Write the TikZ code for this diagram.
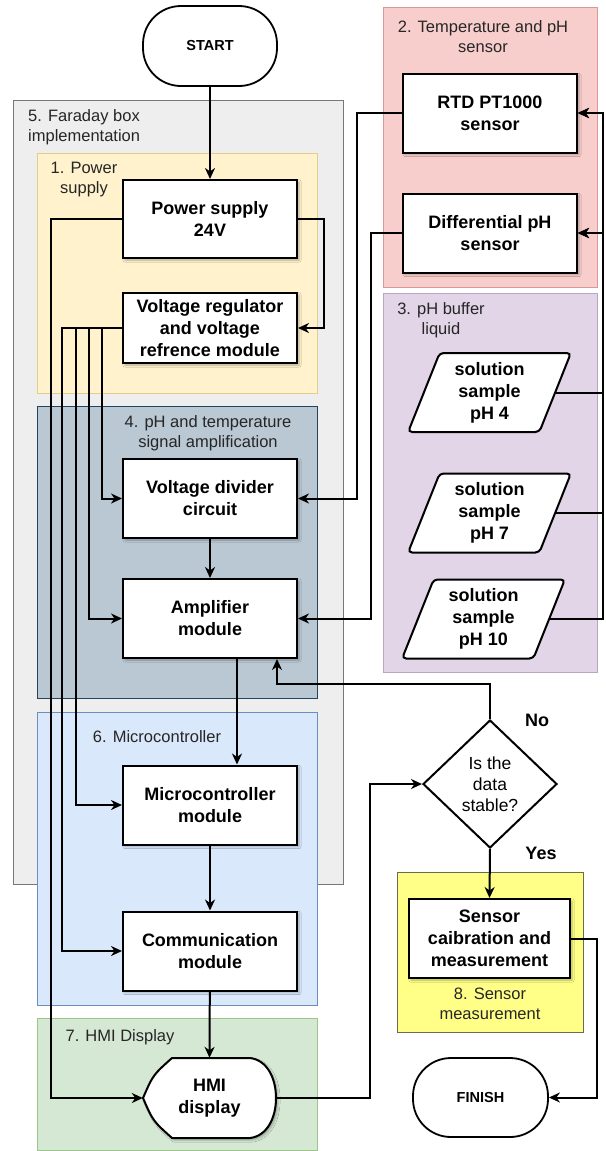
\documentclass[tikz,border=0pt]{standalone}
\usepackage{fontspec}
\setmainfont{Liberation Sans}
\usetikzlibrary{arrows.meta,shapes.geometric,shadows.blur,calc}
\definecolor{cFf}{HTML}{EEEEEE}\definecolor{cFl}{HTML}{777777}
\definecolor{cAf}{HTML}{FFF2CC}\definecolor{cAl}{HTML}{E3CD8A}
\definecolor{cBf}{HTML}{F8CECC}\definecolor{cBl}{HTML}{D99895}
\definecolor{cCf}{HTML}{E1D5E7}\definecolor{cCl}{HTML}{B9A5C4}
\definecolor{cDf}{HTML}{BAC8D3}\definecolor{cDl}{HTML}{23445D}
\definecolor{cEf}{HTML}{DAE8FC}\definecolor{cEl}{HTML}{6C8EBF}
\definecolor{cGf}{HTML}{D5E8D4}\definecolor{cGl}{HTML}{9DC48A}
\definecolor{cHf}{HTML}{FFFF88}\definecolor{cHl}{HTML}{6B6B50}
\definecolor{lbltxt}{HTML}{262626}
\tikzset{
  boxfont/.style={font=\fontsize{18}{22}\selectfont\bfseries},
  shad/.style={blur shadow={shadow xshift=2pt,shadow yshift=-2pt,shadow blur steps=4,shadow opacity=30}},
  stepbox/.style={draw=black,line width=2pt,fill=white,minimum width=174pt,minimum height=79pt,inner sep=1pt,align=center,boxfont,shad},
  term/.style={draw=black,line width=1.8pt,fill=white,rounded corners=38pt,minimum width=134pt,minimum height=80pt,font=\fontsize{14.5}{17}\selectfont\bfseries},
  decision/.style={diamond,aspect=1.05,draw=black,line width=2pt,fill=white,minimum width=134pt,minimum height=128pt,inner sep=0pt,align=center,font=\fontsize{17.5}{21}\selectfont},
  para/.style={trapezium,trapezium left angle=70,trapezium right angle=110,trapezium stretches=true,draw=black,line width=2pt,fill=white,minimum width=163pt,minimum height=79pt,inner sep=0pt,align=center,boxfont,rounded corners=4pt},
  grp/.style={line width=0.7pt},
  grplbl/.style={text=lbltxt,align=center,inner sep=0pt,font=\fontsize{16.5}{20}\selectfont},
  conn/.style={line width=2pt,draw=black},
  arr/.style={conn,-{Stealth[length=11pt,width=10pt,inset=3.5pt]}},
  yn/.style={inner sep=0pt,font=\fontsize{18}{22}\selectfont\bfseries}
}
\begin{document}
\begin{tikzpicture}[x=1pt,y=-1pt]
\useasboundingbox[fill=white] (0,0) rectangle (605,1151);
% groups
\draw[grp,fill=cFf,draw=cFl] (13,100) rectangle (343,884);
\draw[grp,fill=cAf,draw=cAl] (37,153) rectangle (317,393);
\draw[grp,fill=cDf,draw=cDl] (37,406) rectangle (317,698);
\draw[grp,fill=cEf,draw=cEl] (37,712) rectangle (317,1005);
\draw[grp,fill=cGf,draw=cGl] (37,1018) rectangle (317,1150);
\draw[grp,fill=cBf,draw=cBl] (383,7) rectangle (597,287);
\draw[grp,fill=cCf,draw=cCl] (383,293) rectangle (597,672);
\draw[grp,fill=cHf,draw=cHl] (397,872) rectangle (583,1032);
% group labels
\node[grplbl,align=left,anchor=west] (l5) at (28,127) {5. Faraday box\\implementation};
\node[grplbl] (l1) at (84,180) {1. Power\\supply};
\node[grplbl] (l2) at (483,37) {2. Temperature and pH\\sensor};
\node[grplbl] (l3) at (441,320) {3. pH buffer\\liquid};
\node[grplbl] (l4) at (208,433) {4. pH and temperature\\signal amplification};
\node[grplbl] (l6) at (157,737) {6. Microcontroller};
\node[grplbl] (l7) at (120,1037) {7. HMI Display};
\node[grplbl] (l8) at (490,1004) {8. Sensor\\measurement};
% nodes
\node[term] (start) at (210,46) {START};
\node[stepbox,minimum height=78pt] (ps) at (210,219) {Power supply\\24V};
\node[stepbox,minimum height=70pt] (vreg) at (210,328) {Voltage regulator\\and voltage\\refrence module};
\node[stepbox] (vdiv) at (210,498.5) {Voltage divider\\circuit};
\node[stepbox] (amp) at (210,618.5) {Amplifier\\module};
\node[stepbox] (micro) at (210,805) {Microcontroller\\module};
\node[stepbox] (comm) at (210,951) {Communication\\module};
\node[stepbox] (rtd) at (490,113) {RTD PT1000\\sensor};
\node[stepbox] (diff) at (490,233) {Differential pH\\sensor};
\node[para] (ph4) at (489.5,392.5) {solution\\sample\\pH 4};
\node[para] (ph7) at (489.5,513) {solution\\sample\\pH 7};
\node[para] (ph10) at (483.5,619) {solution\\sample\\pH 10};
\node[decision] (dec) at (490,784) {Is the\\data\\stable?};
\node[stepbox,minimum width=161pt] (sens) at (489.5,938.5) {Sensor\\caibration and\\measurement};
\node[term,minimum width=135pt,minimum height=79pt] (finish) at (480.5,1097.5) {FINISH};
% HMI display shape
\draw[line width=2pt,fill=white,shad] (143,1098) .. controls (153,1075) .. (172,1058) -- (250,1058)
  .. controls (267,1060) and (276,1078) .. (276,1098)
  .. controls (276,1118) and (267,1136) .. (250,1138) -- (172,1138)
  .. controls (153,1121) .. cycle;
\node[minimum width=133pt,minimum height=80pt,inner sep=0pt,align=center,boxfont] (hmi) at (209.5,1098) {HMI\\display};
\node[yn] (no) at (537,720) {No};
\node[yn] (yes) at (541,853) {Yes};
% connectors
\coordinate (bus) at (603,0);
\draw[arr] (start) -- (ps);
\draw[arr] (ps.east) -| ([xshift=26pt]vreg.east) -- (vreg.east);
\draw[arr] (ps.west) -| ([xshift=-92pt]hmi.west) -- (hmi.west);
\draw[arr] (vreg.west) -| ([xshift=-20pt]vdiv.west) -- (vdiv.west);
\draw[arr] (vreg.west) -| ([xshift=-33pt]amp.west) -- (amp.west);
\draw[arr] (vreg.west) -| ([xshift=-46pt]micro.west) -- (micro.west);
\draw[arr] (vreg.west) -| ([xshift=-60pt]comm.west) -- (comm.west);
\draw[arr] (vdiv) -- (amp);
\draw[arr] ([xshift=27pt]amp.south) -- ([xshift=27pt]micro.north);
\draw[arr] (micro) -- (comm);
\draw[arr] (comm) -- (hmi.north);
\draw[arr] (rtd.west) -| ([xshift=59pt]vdiv.east) -- (vdiv.east);
\draw[arr] (diff.west) -| ([xshift=73pt]amp.east) -- (amp.east);
\foreach \p in {ph4,ph7,ph10}{
  \draw[arr] (\p.east) -| (bus |- rtd.east) -- (rtd.east);
  \draw[arr] (\p.east) -| (bus |- diff.east) -- (diff.east);
}
\draw[arr] (dec.north) -- ++(0,-35) -| ([xshift=67pt]amp.south);
\draw[arr] (hmi.east) -- ++(94,0) |- (dec.west);
\draw[arr] (dec.south) -- (sens.north);
\draw[arr] (sens.east) -| ([xshift=48pt]finish.east) -- (finish.east);
\end{tikzpicture}
\end{document}
